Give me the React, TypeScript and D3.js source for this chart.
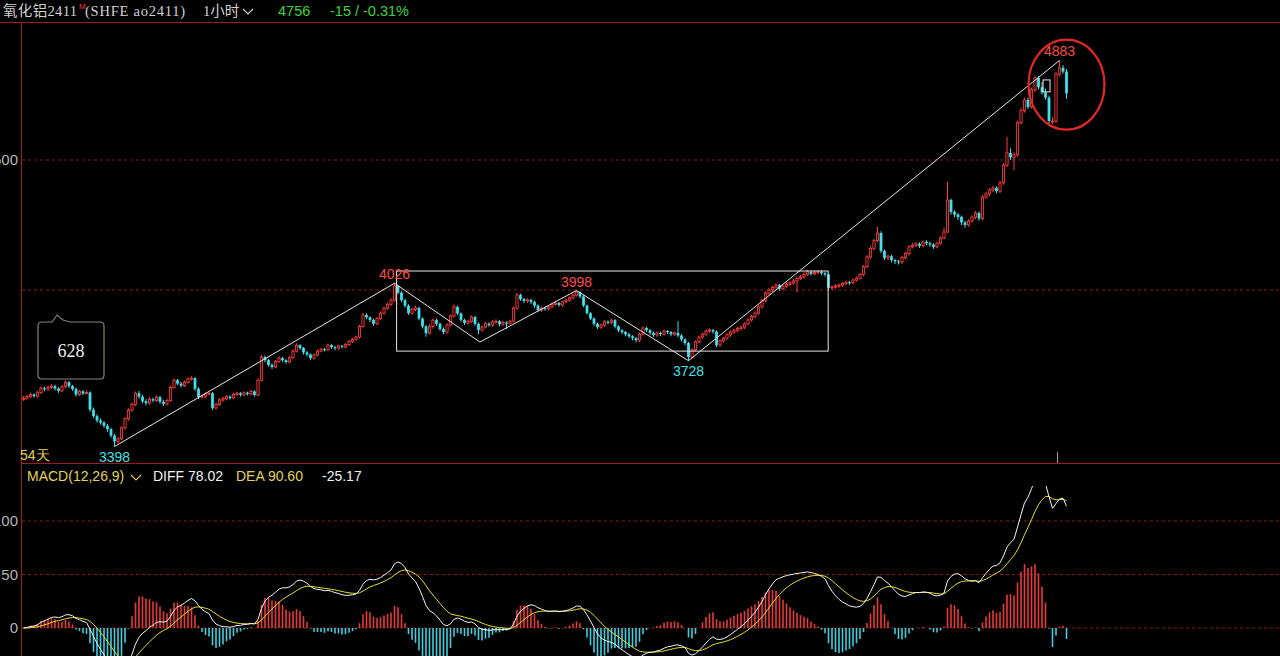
import React from 'react';
import * as d3 from 'd3';

const width = 1280;
const height = 656;

const RED = '#ff3b3b';
const CYAN = '#3fe0ea';
const GRID = '#8c1a1a';
const YELLOW = '#e2d35a';

// hourly bars, ao2411
const closes = [
  3584, 3590, 3598, 3592, 3605, 3622, 3618, 3625, 3630, 3621,
  3612, 3628, 3645, 3630, 3619, 3598, 3610, 3602, 3606, 3540,
  3515, 3498, 3490, 3478, 3465, 3440, 3418, 3428, 3470, 3505,
  3538, 3560, 3603, 3590, 3572, 3565, 3580, 3575, 3588, 3570,
  3562, 3575, 3625, 3653, 3640, 3632, 3645, 3658, 3661, 3620,
  3588, 3592, 3600, 3603, 3546, 3560, 3577, 3582, 3590, 3585,
  3598, 3603, 3597, 3605, 3600, 3610, 3596, 3653, 3742, 3730,
  3712, 3704, 3725, 3738, 3730, 3723, 3740, 3765, 3788, 3777,
  3760, 3752, 3738, 3750, 3765, 3772, 3770, 3788, 3780, 3776,
  3785, 3781, 3790, 3802, 3810, 3819, 3860, 3904, 3895, 3885,
  3870, 3890, 3911, 3930, 3945, 3961, 4015, 3990, 3961, 3940,
  3911, 3925, 3931, 3890, 3860, 3834, 3860, 3884, 3870, 3850,
  3838, 3865, 3900, 3935, 3910, 3885, 3873, 3880, 3896, 3870,
  3846, 3858, 3870, 3865, 3877, 3880, 3868, 3875, 3872, 3880,
  3930, 3981, 3965, 3958, 3962, 3954, 3940, 3923, 3930, 3928,
  3935, 3945, 3950, 3942, 3955, 3961, 3970, 3980, 3992, 3975,
  3940, 3911, 3890, 3870, 3857, 3865, 3878, 3875, 3884, 3860,
  3845, 3838, 3830, 3822, 3815, 3807, 3830, 3854, 3845, 3835,
  3827, 3835, 3830, 3842, 3838, 3830, 3835, 3825, 3810, 3796,
  3742, 3770, 3800, 3819, 3830, 3842, 3846, 3840, 3788, 3805,
  3815, 3828, 3838, 3845, 3852, 3857, 3870, 3885, 3898, 3911,
  3935, 3960, 3988, 4000, 4010, 4019, 4005, 4015, 4022, 4027,
  4035, 4045, 4050, 4060, 4069, 4062, 4068, 4070, 4065, 4060,
  4008, 4012, 4015, 4019, 4025, 4030, 4028, 4038, 4045, 4060,
  4090, 4127, 4160, 4190, 4219, 4150, 4123, 4130, 4115, 4110,
  4108, 4125, 4140, 4166, 4172, 4178, 4170, 4185, 4180, 4175,
  4166, 4180, 4200, 4223, 4346, 4300, 4290, 4281, 4260, 4250,
  4265, 4280, 4296, 4275, 4358, 4370, 4385, 4393, 4380, 4412,
  4480, 4527, 4510, 4520, 4643, 4690, 4731, 4704, 4770, 4816,
  4780, 4760, 4740, 4650, 4650, 4830, 4855, 4840, 4756,
];

const opens = [
  3580, 3584, 3590, 3598, 3592, 3605, 3622, 3618, 3625, 3630,
  3621, 3612, 3628, 3645, 3630, 3619, 3598, 3610, 3602, 3606,
  3540, 3515, 3498, 3490, 3478, 3465, 3440, 3418, 3428, 3470,
  3505, 3538, 3560, 3603, 3590, 3572, 3565, 3580, 3575, 3588,
  3570, 3562, 3575, 3625, 3653, 3640, 3632, 3645, 3658, 3661,
  3620, 3588, 3592, 3600, 3603, 3546, 3560, 3577, 3582, 3590,
  3585, 3598, 3603, 3597, 3605, 3600, 3610, 3596, 3653, 3742,
  3730, 3712, 3704, 3725, 3738, 3730, 3723, 3740, 3765, 3788,
  3777, 3760, 3752, 3738, 3750, 3765, 3772, 3770, 3788, 3780,
  3776, 3785, 3781, 3790, 3802, 3810, 3819, 3860, 3904, 3895,
  3885, 3870, 3890, 3911, 3930, 3945, 3961, 4015, 3990, 3961,
  3940, 3911, 3925, 3931, 3890, 3860, 3834, 3860, 3884, 3870,
  3850, 3838, 3865, 3900, 3935, 3910, 3885, 3873, 3880, 3896,
  3870, 3846, 3858, 3870, 3865, 3877, 3880, 3868, 3875, 3872,
  3880, 3930, 3981, 3965, 3958, 3962, 3954, 3940, 3923, 3930,
  3928, 3935, 3945, 3950, 3942, 3955, 3961, 3970, 3980, 3992,
  3975, 3940, 3911, 3890, 3870, 3857, 3865, 3878, 3875, 3884,
  3860, 3845, 3838, 3830, 3822, 3815, 3807, 3830, 3854, 3845,
  3835, 3827, 3835, 3830, 3842, 3838, 3830, 3835, 3825, 3810,
  3796, 3742, 3770, 3800, 3819, 3830, 3842, 3846, 3840, 3788,
  3805, 3815, 3828, 3838, 3845, 3852, 3857, 3870, 3885, 3898,
  3911, 3935, 3960, 3988, 4000, 4010, 4019, 4005, 4015, 4022,
  4027, 4035, 4045, 4050, 4060, 4069, 4062, 4068, 4070, 4065,
  4060, 4008, 4012, 4015, 4019, 4025, 4030, 4028, 4038, 4045,
  4060, 4090, 4127, 4160, 4190, 4219, 4150, 4123, 4130, 4115,
  4110, 4108, 4125, 4140, 4166, 4172, 4178, 4170, 4185, 4180,
  4175, 4166, 4180, 4200, 4223, 4346, 4300, 4290, 4281, 4260,
  4250, 4265, 4280, 4296, 4275, 4358, 4370, 4385, 4393, 4380,
  4412, 4480, 4527, 4510, 4520, 4643, 4690, 4731, 4704, 4770,
  4816, 4780, 4760, 4740, 4650, 4650, 4830, 4855, 4840,
];

const highs = [
  3592, 3596, 3605, 3603, 3612, 3630, 3628, 3633, 3638, 3636,
  3626, 3634, 3652, 3650, 3635, 3625, 3616, 3615, 3614, 3610,
  3548, 3522, 3506, 3496, 3485, 3470, 3446, 3435, 3476, 3512,
  3545, 3568, 3610, 3612, 3596, 3580, 3588, 3586, 3595, 3593,
  3578, 3582, 3632, 3660, 3658, 3646, 3652, 3664, 3668, 3665,
  3626, 3598, 3606, 3610, 3608, 3566, 3584, 3590, 3596, 3595,
  3604, 3609, 3607, 3611, 3609, 3616, 3614, 3660, 3750, 3748,
  3735, 3718, 3731, 3745, 3743, 3734, 3746, 3772, 3795, 3792,
  3781, 3765, 3756, 3756, 3771, 3778, 3777, 3794, 3792, 3785,
  3790, 3789, 3796, 3808, 3816, 3825, 3866, 3912, 3910, 3900,
  3890, 3896, 3918, 3936, 3951, 3968, 4026, 4020, 3995, 3966,
  3945, 3932, 3940, 3936, 3895, 3866, 3868, 3891, 3890, 3875,
  3856, 3872, 3906, 3945, 3940, 3914, 3890, 3886, 3902, 3900,
  3875, 3864, 3877, 3876, 3884, 3888, 3885, 3881, 3880, 3886,
  3936, 3988, 3986, 3970, 3968, 3966, 3958, 3945, 3936, 3935,
  3940, 3950, 3956, 3954, 3960, 3967, 3975, 3986, 3998, 3995,
  3980, 3944, 3915, 3895, 3875, 3871, 3884, 3883, 3890, 3888,
  3864, 3850, 3842, 3835, 3826, 3820, 3836, 3860, 3858, 3850,
  3840, 3841, 3840, 3848, 3846, 3842, 3840, 3880, 3830, 3815,
  3800, 3775, 3806, 3825, 3836, 3848, 3852, 3850, 3844, 3810,
  3820, 3834, 3844, 3851, 3858, 3863, 3876, 3891, 3905, 3918,
  3942, 3966, 3995, 4008, 4016, 4026, 4024, 4021, 4030, 4034,
  4042, 4052, 4058, 4068, 4078, 4075, 4074, 4076, 4075, 4070,
  4064, 4018, 4022, 4025, 4031, 4036, 4035, 4044, 4052, 4066,
  4096, 4134, 4168, 4198, 4243, 4226, 4156, 4136, 4135, 4120,
  4116, 4131, 4146, 4172, 4180, 4184, 4184, 4191, 4192, 4186,
  4180, 4186, 4206, 4240, 4416, 4352, 4306, 4296, 4286, 4266,
  4272, 4288, 4303, 4303, 4365, 4378, 4392, 4400, 4399, 4420,
  4488, 4590, 4545, 4530, 4650, 4700, 4740, 4740, 4778, 4825,
  4822, 4800, 4775, 4748, 4665, 4838, 4883, 4865, 4850,
];

const lows = [
  3574, 3578, 3585, 3586, 3586, 3600, 3610, 3612, 3619, 3614,
  3604, 3606, 3622, 3624, 3612, 3590, 3592, 3596, 3598, 3532,
  3508, 3490, 3482, 3470, 3455, 3432, 3398, 3410, 3422, 3464,
  3498, 3532, 3554, 3582, 3565, 3556, 3558, 3568, 3570, 3562,
  3554, 3556, 3570, 3620, 3634, 3625, 3627, 3640, 3652, 3612,
  3580, 3582, 3586, 3594, 3538, 3540, 3554, 3570, 3576, 3578,
  3580, 3592, 3590, 3591, 3594, 3595, 3590, 3592, 3648, 3722,
  3705, 3696, 3699, 3720, 3724, 3716, 3718, 3735, 3760, 3770,
  3752, 3745, 3730, 3732, 3745, 3760, 3764, 3765, 3774, 3768,
  3770, 3775, 3776, 3785, 3796, 3804, 3814, 3855, 3888, 3876,
  3862, 3864, 3884, 3905, 3924, 3938, 3955, 3984, 3954, 3932,
  3904, 3905, 3918, 3884, 3852, 3820, 3828, 3852, 3862, 3843,
  3830, 3832, 3860, 3894, 3903, 3878, 3865, 3866, 3874, 3862,
  3830, 3840, 3852, 3858, 3858, 3870, 3860, 3862, 3850, 3866,
  3874, 3924, 3958, 3950, 3952, 3946, 3932, 3916, 3916, 3920,
  3922, 3930, 3940, 3936, 3936, 3948, 3955, 3964, 3975, 3968,
  3934, 3905, 3884, 3862, 3850, 3850, 3858, 3868, 3868, 3852,
  3838, 3830, 3822, 3815, 3806, 3798, 3800, 3824, 3838, 3826,
  3820, 3820, 3823, 3824, 3830, 3822, 3824, 3818, 3802, 3788,
  3728, 3735, 3764, 3794, 3812, 3824, 3835, 3832, 3780, 3782,
  3798, 3808, 3820, 3830, 3838, 3845, 3850, 3864, 3878, 3890,
  3905, 3928, 3952, 3980, 3992, 4002, 3998, 3998, 4008, 4015,
  4020, 3990, 4038, 4044, 4054, 4055, 4056, 4062, 4058, 4052,
  4000, 4000, 4005, 4008, 4012, 4018, 4020, 4022, 4032, 4040,
  4054, 4084, 4120, 4152, 4184, 4142, 4115, 4115, 4106, 4100,
  4098, 4100, 4118, 4133, 4160, 4165, 4162, 4164, 4172, 4166,
  4158, 4160, 4174, 4195, 4218, 4290, 4280, 4270, 4250, 4240,
  4244, 4258, 4272, 4266, 4268, 4350, 4362, 4376, 4372, 4372,
  4405, 4472, 4500, 4460, 4514, 4636, 4682, 4696, 4698, 4762,
  4772, 4752, 4732, 4640, 4638, 4642, 4822, 4832, 4735,
];

const priceTicks = [4500, 4000];
const priceTickLabels = ['4500', ''];
const macdTicks = [100, 50, 0];
const macdTickLabels = ['100', '50', '0'];

// hand-drawn analysis lines, as [bar index, price]
const trendLine: [number, number][] = [[26, 3398], [106, 4026]];
const zigzagLine: [number, number][] = [[106, 4026], [130.4, 3800], [158, 3998], [190, 3728], [296, 4883]];
const rangeBox = { i0: 106.6, i1: 229.9, lo: 3765, hi: 4073 };
const smallBox = { i0: 291.3, i1: 293.3, lo: 4762, hi: 4808 };
const circleAt = { i: 298, price: 4790 };

const pivotIdx = [106, 158, 190, 26, 296];
const pivotVal = [4026, 3998, 3728, 3398, 4883];
const pivotIsHigh = [true, true, false, false, true];

const ema = (arr: number[], n: number) => {
  const k = 2 / (n + 1);
  const out: number[] = [];
  arr.forEach((v, i) => out.push(i === 0 ? v : v * k + out[i - 1] * (1 - k)));
  return out;
};

// MACD(12,26,9) from the closes
const e12 = ema(closes, 12);
const e26 = ema(closes, 26);
const diff = closes.map((_, i) => e12[i] - e26[i]);
const dea = ema(diff, 9);
const hist = diff.map((d, i) => 2 * (d - dea[i]));

const sans = "'Liberation Sans', Arial, sans-serif";
const serif = "'Liberation Serif', 'Noto Sans CJK SC', serif";

const App: React.FC = () => {
  const n = closes.length;
  const x = d3.scaleLinear().domain([0, n - 1]).range([23.5, 1066.5]);
  const yP = d3.scaleLinear().domain([4000, 4500]).range([290, 160]);
  const yM = d3.scaleLinear().domain([0, 100]).range([628, 521]);

  const lineP = d3.line<[number, number]>().x((d) => x(d[0])).y((d) => yP(d[1]));
  const lineM = d3.line<number>().x((_, i) => x(i)).y((d) => yM(d));

  return (
    <div>
      <style>{'body{margin:0;background:#000;}'}</style>
      <svg width={width} height={height} style={{ display: 'block', background: '#000' }}>
        <defs>
          <clipPath id="mainClip">
            <rect x={22} y={23} width={1258} height={439} />
          </clipPath>
          <clipPath id="macdClip">
            <rect x={22} y={486} width={1258} height={170} />
          </clipPath>
        </defs>
        <rect x={0} y={0} width={width} height={height} fill="#000" />

        {/* frame */}
        <line x1={0} x2={width} y1={22.5} y2={22.5} stroke="#a01c1c" />
        <line x1={21.5} x2={21.5} y1={22} y2={height} stroke="#a01c1c" />
        <line x1={21} x2={width} y1={463.5} y2={463.5} stroke="#a01c1c" />

        {/* header */}
        <text x={3} y={16} fill="#d2d2d2" fontSize={14.5} fontFamily={serif} textLength={74}>氧化铝2411</text>
        <text x={79} y={9} fill={RED} fontSize={8} fontFamily={sans}>M</text>
        <text x={85} y={16} fill="#d2d2d2" fontSize={14.5} fontFamily={serif} textLength={100}>(SHFE ao2411)</text>
        <text x={203} y={16} fill="#d2d2d2" fontSize={14.5} fontFamily={serif}>1小时</text>
        <path d="M243,9 L248,14 L253,9" fill="none" stroke="#d2d2d2" strokeWidth={1.2} />
        <text x={278} y={16} fill="#3cd43c" fontSize={14.5} fontFamily={sans}>4756</text>
        <text x={330} y={16} fill="#3cd43c" fontSize={14.5} fontFamily={sans}>-15 / -0.31%</text>

        {/* price grid */}
        {priceTicks.map((t, k) => (
          <g key={t}>
            <line x1={22} x2={width} y1={yP(t)} y2={yP(t)} stroke={GRID} strokeDasharray="3,3" />
            <text x={18} y={yP(t) + 5} fill="#b4b4b4" fontSize={15} fontFamily={sans} textAnchor="end">
              {priceTickLabels[k]}
            </text>
          </g>
        ))}

        {/* candles */}
        <g clipPath="url(#mainClip)">
          {closes.map((c, i) => {
            const o = opens[i];
            const up = c >= o;
            const cx = x(i);
            const top = yP(Math.max(o, c));
            const bot = yP(Math.min(o, c));
            const h = Math.max(bot - top, 1);
            if (up) {
              return (
                <g key={i}>
                  <line x1={cx} x2={cx} y1={yP(highs[i])} y2={top} stroke={RED} />
                  <line x1={cx} x2={cx} y1={top + h} y2={yP(lows[i])} stroke={RED} />
                  <rect x={cx - 1.1} y={top} width={2.2} height={h} fill="#000" stroke={RED} strokeWidth={0.9} />
                </g>
              );
            }
            return (
              <g key={i}>
                <line x1={cx} x2={cx} y1={yP(highs[i])} y2={yP(lows[i])} stroke={CYAN} />
                <rect x={cx - 1.4} y={top} width={2.8} height={h} fill={CYAN} />
              </g>
            );
          })}

          {/* drawings */}
          <path d={lineP(trendLine) || ''} fill="none" stroke="#e6e6e6" strokeWidth={1} />
          <path d={lineP(zigzagLine) || ''} fill="none" stroke="#e6e6e6" strokeWidth={1} />
          <rect
            x={x(rangeBox.i0)}
            y={yP(rangeBox.hi)}
            width={x(rangeBox.i1) - x(rangeBox.i0)}
            height={yP(rangeBox.lo) - yP(rangeBox.hi)}
            fill="none"
            stroke="#e6e6e6"
          />
          <rect
            x={x(smallBox.i0)}
            y={yP(smallBox.hi)}
            width={x(smallBox.i1) - x(smallBox.i0)}
            height={yP(smallBox.lo) - yP(smallBox.hi)}
            fill="none"
            stroke="#e6e6e6"
          />
          <ellipse cx={x(circleAt.i)} cy={yP(circleAt.price)} rx={38} ry={45} fill="none" stroke="#e02828" strokeWidth={2.2} />

          {pivotIdx.map((pi, k) => (
            <text
              key={pi}
              x={x(pi)}
              y={pivotIsHigh[k] ? yP(pivotVal[k]) - 4 : yP(pivotVal[k]) + 15}
              fill={pivotIsHigh[k] ? '#ff4a4a' : CYAN}
              fontSize={14}
              fontFamily={sans}
              textAnchor="middle"
            >
              {pivotVal[k]}
            </text>
          ))}
        </g>

        {/* counter bubble */}
        <path
          d="M38,326 Q38,322 42,322 L52,322 L57,315 L63,320 L70,322 L100,322 Q104,322 104,326 L104,375 Q104,379 100,379 L42,379 Q38,379 38,375 Z"
          fill="#000"
          stroke="#8c8270"
          strokeWidth={1.2}
        />
        <text x={71} y={357} fill="#f0f0f0" fontSize={18} fontFamily={serif} textAnchor="middle">628</text>

        <text x={20} y={460} fill={YELLOW} fontSize={14} fontFamily={sans}>54天</text>
        <line x1={1057.5} x2={1057.5} y1={452} y2={463} stroke="#9a9a9a" />

        {/* MACD header */}
        <text x={27} y={481} fill={YELLOW} fontSize={14} fontFamily={sans}>MACD(12,26,9)</text>
        <path d="M131,475 L136,480 L141,475" fill="none" stroke={YELLOW} strokeWidth={1.1} />
        <text x={153} y={481} fill="#f0f0f0" fontSize={14} fontFamily={sans}>DIFF 78.02</text>
        <text x={236} y={481} fill={YELLOW} fontSize={14} fontFamily={sans}>DEA 90.60</text>
        <text x={322} y={481} fill="#f0f0f0" fontSize={14} fontFamily={sans}>-25.17</text>

        {macdTicks.map((t, k) => (
          <g key={t}>
            <line x1={22} x2={width} y1={yM(t)} y2={yM(t)} stroke={GRID} strokeDasharray="3,3" />
            <text x={18} y={yM(t) + 5} fill="#b4b4b4" fontSize={15} fontFamily={sans} textAnchor="end">
              {macdTickLabels[k]}
            </text>
          </g>
        ))}

        <g clipPath="url(#macdClip)">
          {hist.map((h, i) => (
            <line
              key={i}
              x1={x(i)}
              x2={x(i)}
              y1={yM(0)}
              y2={yM(h)}
              stroke={h >= 0 ? '#e83a3a' : '#3fcfe0'}
              strokeWidth={1.6}
            />
          ))}
          <path d={lineM(dea) || ''} fill="none" stroke="#e6de2a" strokeWidth={1} />
          <path d={lineM(diff) || ''} fill="none" stroke="#f4f4f4" strokeWidth={1} />
        </g>
      </svg>
    </div>
  );
};

export default App;
